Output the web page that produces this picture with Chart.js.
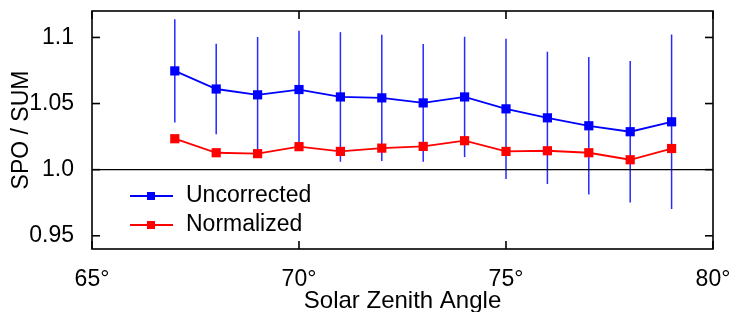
<!DOCTYPE html>
<html><head><meta charset="utf-8">
<script src="https://cdn.jsdelivr.net/npm/chart.js@4/dist/chart.umd.min.js"></script>
<style>html,body{margin:0;padding:0;background:#fff;overflow:hidden}canvas{display:block}</style>
</head><body>
<canvas id="c" width="729" height="312"></canvas>
<script>
const angles = [67, 68, 69, 70, 71, 72, 73, 74, 75, 76, 77, 78, 79];
const uncorrected = [1.0747, 1.0610, 1.0566, 1.0606, 1.0550, 1.0543, 1.0505, 1.0550, 1.0460, 1.0392, 1.0332, 1.0287, 1.0362];
const uncorrectedErr = [0.0390, 0.0343, 0.0437, 0.0444, 0.0490, 0.0478, 0.0445, 0.0455, 0.0530, 0.0500, 0.0520, 0.0535, 0.0660];
const normalized = [1.0234, 1.0128, 1.0121, 1.0174, 1.0138, 1.0163, 1.0176, 1.0219, 1.0138, 1.0143, 1.0128, 1.0075, 1.0160];
const seriesNames = ['Uncorrected', 'Normalized'];
const xTickValues = [65, 70, 75, 80];
const xTickLabels = ['65°', '70°', '75°', '80°'];
const yTickValues = [0.95, 1.0, 1.05, 1.1];
const yTickLabels = ['0.95', '1.0', '1.05', '1.1'];
const referenceLevel = 1.0;

const FONT = '"Liberation Sans", Arial, Helvetica, sans-serif';

function seg(ctx, x1, y1, x2, y2) { ctx.beginPath(); ctx.moveTo(x1, y1); ctx.lineTo(x2, y2); ctx.stroke(); }

const decorPlugin = {
  id: 'decor',
  beforeDatasetsDraw(chart) {
    const { ctx, scales: { x, y } } = chart;
    ctx.save();
    ctx.strokeStyle = 'rgb(40,40,255)';
    ctx.lineWidth = 1.5;
    angles.forEach((a, i) => {
      const px = x.getPixelForValue(a);
      seg(ctx, px, y.getPixelForValue(uncorrected[i] + uncorrectedErr[i]), px, y.getPixelForValue(uncorrected[i] - uncorrectedErr[i]));
    });
    ctx.restore();
  },
  afterDatasetsDraw(chart) {
    const { ctx, chartArea: a, scales: { x, y } } = chart;
    ctx.save();
    ctx.strokeStyle = '#000';
    ctx.lineWidth = 1.3;
    const ry = y.getPixelForValue(referenceLevel);
    seg(ctx, a.left, ry, a.right, ry);
    ctx.lineWidth = 1.6;
    ctx.strokeRect(a.left, a.top, a.right - a.left, a.bottom - a.top);
    const T = 8;
    x.ticks.forEach(t => {
      const px = x.getPixelForValue(t.value);
      seg(ctx, px, a.bottom, px, a.bottom - T);
      seg(ctx, px, a.top, px, a.top + T);
    });
    y.ticks.forEach(t => {
      const py = y.getPixelForValue(t.value);
      seg(ctx, a.left, py, a.left + T, py);
      seg(ctx, a.right, py, a.right - T, py);
    });
    // legend inside plot area
    const lx0 = a.left + 38, lx1 = a.left + 81;
    const rows = [a.top + 185, a.top + 214];
    chart.data.datasets.forEach((ds, i) => {
      const ly = rows[i];
      ctx.strokeStyle = ds.borderColor;
      ctx.lineWidth = 1.8;
      seg(ctx, lx0, ly, lx1, ly);
      ctx.fillStyle = ds.backgroundColor;
      const mx = (lx0 + lx1) / 2 - 0.5;
      ctx.fillRect(mx - 4, ly - 4, 8, 8);
      ctx.fillStyle = '#000';
      ctx.font = '23px ' + FONT;
      ctx.textAlign = 'left';
      ctx.textBaseline = 'middle';
      ctx.fillText(ds.label, lx1 + 13, ly);
    });
    ctx.restore();
  }
};

new Chart(document.getElementById('c'), {
  type: 'line',
  data: {
    datasets: [
      {
        label: seriesNames[0],
        data: angles.map((a, i) => ({ x: a, y: uncorrected[i] })),
        borderColor: '#0000ff', backgroundColor: '#0000ff',
        borderWidth: 1.8, pointStyle: 'rect', pointRadius: 6.5, pointBorderWidth: 0, tension: 0
      },
      {
        label: seriesNames[1],
        data: angles.map((a, i) => ({ x: a, y: normalized[i] })),
        borderColor: '#ff0000', backgroundColor: '#ff0000',
        borderWidth: 1.8, pointStyle: 'rect', pointRadius: 6.5, pointBorderWidth: 0, tension: 0
      }
    ]
  },
  options: {
    responsive: false,
    animation: false,
    devicePixelRatio: 1,
    layout: { padding: { top: 11, right: 16, left: 0, bottom: 0 } },
    plugins: { legend: { display: false }, tooltip: { enabled: false } },
    scales: {
      x: {
        type: 'linear', min: 65, max: 80,
        grid: { display: false }, border: { display: false },
        afterBuildTicks: s => { s.ticks = xTickValues.map(v => ({ value: v })); },
        ticks: {
          callback: (v, i) => xTickLabels[i],
          font: { family: FONT, size: 23 }, color: '#000', padding: 8.5, maxRotation: 0, autoSkip: false
        },
        title: { display: true, text: 'Solar Zenith Angle', color: '#000',
          font: { family: FONT, size: 24, lineHeight: 0.9 }, padding: { top: 0, bottom: 0 } },
        afterFit: s => { s.height = 63; s.paddingLeft = 0; s.paddingRight = 0; }
      },
      y: {
        type: 'linear', min: 0.94, max: 1.12,
        grid: { display: false }, border: { display: false },
        afterBuildTicks: s => { s.ticks = yTickValues.map(v => ({ value: v })); },
        ticks: {
          callback: (v, i) => yTickLabels[i],
          font: { family: FONT, size: 23 }, color: '#000', padding: 10, autoSkip: false
        },
        title: { display: true, text: 'SPO / SUM', color: '#000',
          font: { family: FONT, size: 23 }, padding: { top: 8, bottom: 0 } },
        afterFit: s => { s.width = 92; s.paddingTop = 0; s.paddingBottom = 0; }
      }
    }
  },
  plugins: [decorPlugin]
});
</script>
</body></html>
